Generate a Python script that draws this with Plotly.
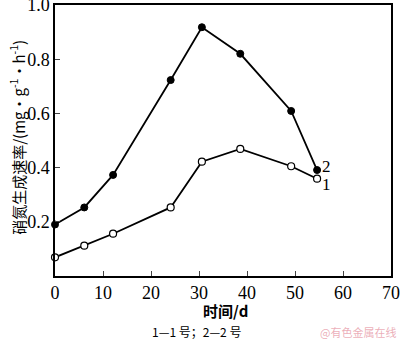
import plotly.graph_objects as go

days = [0.0, 6.1, 12.1, 24.1, 30.6, 38.6, 49.2, 54.6]
rate_1 = [0.069, 0.112, 0.156, 0.253, 0.422, 0.469, 0.405, 0.359]
rate_2 = [0.19, 0.253, 0.373, 0.723, 0.918, 0.82, 0.609, 0.391]
x_ticks = [0, 10, 20, 30, 40, 50, 60, 70]
y_ticks = [0.2, 0.4, 0.6, 0.8, 1.0]
y_tick_text = ["0.2", "0.4", "0.6", "0.8", "1.0"]

FONT = "Liberation Serif, Times New Roman, serif"
CJK = "Noto Sans CJK SC"

fig = go.Figure()
fig.add_trace(go.Scatter(
    x=days, y=rate_1, mode="lines+markers", name="1",
    line=dict(color="black", width=1.8),
    marker=dict(symbol="circle", size=7, color="white", line=dict(color="black", width=1.2)),
    showlegend=False, cliponaxis=False))
fig.add_trace(go.Scatter(
    x=days, y=rate_2, mode="lines+markers", name="2",
    line=dict(color="black", width=1.8),
    marker=dict(symbol="circle", size=7, color="black", line=dict(color="black", width=1)),
    showlegend=False, cliponaxis=False))

fig.add_annotation(x=days[-1], y=rate_2[-1], text="2", showarrow=False, xanchor="left",
                   yanchor="middle", xshift=3, yshift=4,
                   font=dict(family=FONT, size=17, color="black"))
fig.add_annotation(x=days[-1], y=rate_1[-1], text="1", showarrow=False, xanchor="left",
                   yanchor="middle", xshift=3, yshift=-6,
                   font=dict(family=FONT, size=17, color="black"))

# axis titles
fig.add_annotation(x=0.507, y=-0.127, xref="paper", yref="paper", text="<b>时间/d</b>",
                   xanchor="center", yanchor="middle",
                   showarrow=False, font=dict(family=CJK, size=15, color="black"))
fig.add_annotation(x=-0.113, y=0.51, xref="paper", yref="paper", textangle=-90,
                   xanchor="center", yanchor="middle",
                   text="硝氮生成速率/(mg·g<sup>-1</sup>·h<sup>-1</sup>)",
                   showarrow=False, font=dict(family=CJK, size=15, color="black"))

fig.add_annotation(x=0.42, y=-0.205, xref="paper", yref="paper", text="1—1 号；2—2 号",
                   xanchor="center", yanchor="middle",
                   showarrow=False, font=dict(family=CJK, size=12, color="black"))
fig.add_annotation(x=1.02, y=-0.205, xref="paper", yref="paper", text="@有色金属在线",
                   showarrow=False, xanchor="right", yanchor="middle",
                   font=dict(family=CJK, size=11, color="rgba(232,160,172,0.85)"))

fig.update_xaxes(range=[0, 70], tickvals=x_ticks, ticks="inside", ticklen=5, tickwidth=1.2,
                 showline=True, linecolor="black", linewidth=1.5, mirror=True,
                 showgrid=False, zeroline=False, automargin=False, ticklabeloverflow="allow",
                 tickfont=dict(family=FONT, size=18, color="black"))
fig.update_yaxes(range=[0, 1.0], tickvals=y_ticks, ticktext=y_tick_text, ticks="inside", ticklen=5,
                 tickwidth=1.2, showline=True, linecolor="black", linewidth=1.5, mirror=True,
                 showgrid=False, zeroline=False, automargin=False, ticklabeloverflow="allow",
                 tickfont=dict(family=FONT, size=18, color="black"))

fig.update_layout(width=400, height=345, margin=dict(l=55, r=9, t=5, b=69),
                  plot_bgcolor="white", paper_bgcolor="white")

fig.write_html("out.html", config={"displayModeBar": False},
               post_script="document.body.style.margin='0';document.body.style.padding='0';")
